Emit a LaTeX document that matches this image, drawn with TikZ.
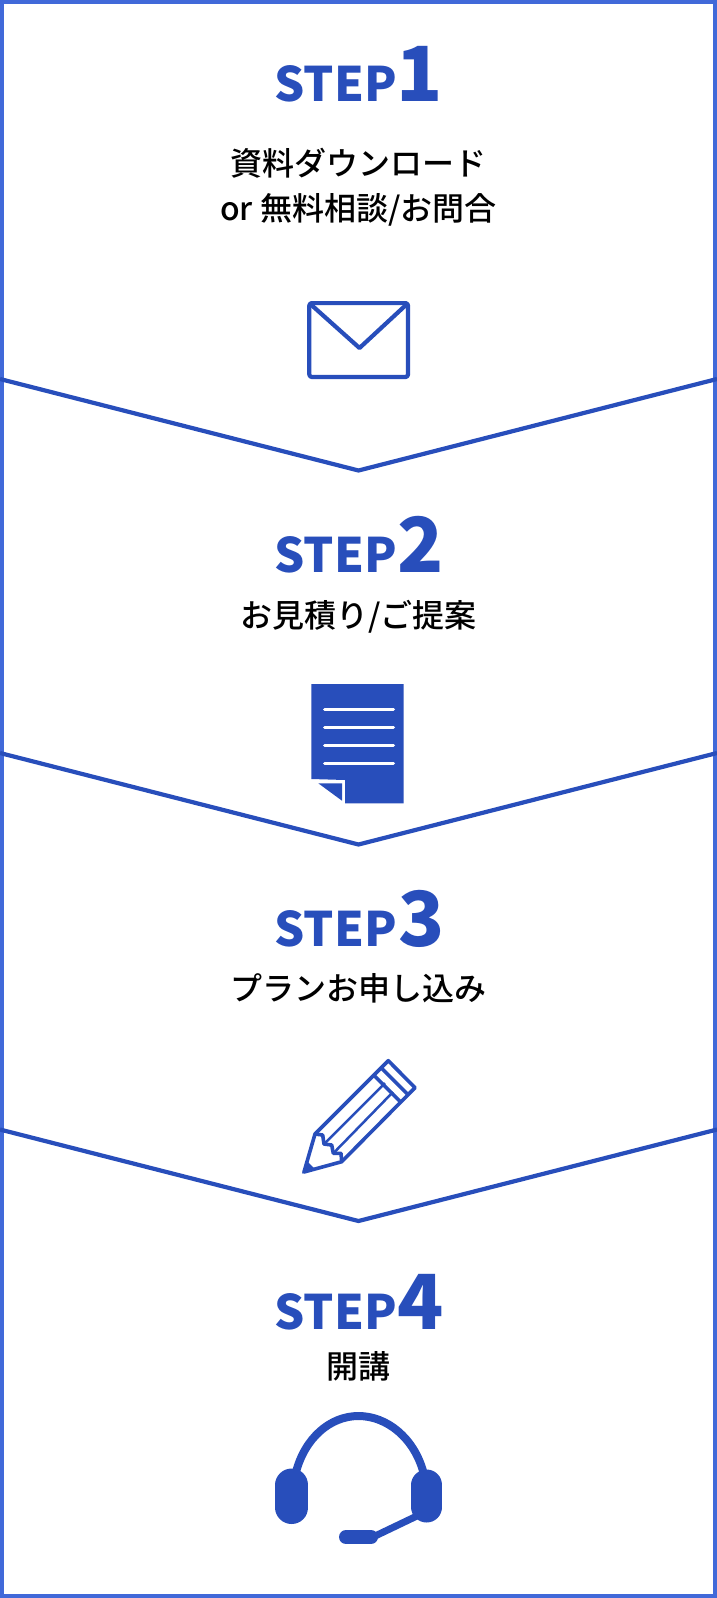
\documentclass[tikz,border=0pt]{standalone}
\usepackage{fontspec}
\setmainfont{Noto Sans CJK JP Medium}
\newfontfamily\stepfont{Noto Sans CJK JP Black}
\definecolor{stepblue}{HTML}{284EBB}
\definecolor{edgeblue}{HTML}{4169D9}
\begin{document}
\begin{tikzpicture}[x=1pt,y=-1pt]

\tikzset{chevron/.style = {draw=stepblue,line width=4.2pt}}
\tikzset{steptext/.style = {text=stepblue,font=\stepfont\fontsize{47.5}{47.5}\selectfont,anchor=base east,inner sep=0pt}}
\tikzset{stepnum/.style = {text=stepblue,font=\stepfont\fontsize{76}{76}\selectfont,anchor=base west,inner sep=0pt}}
\tikzset{caption/.style = {font=\fontsize{32}{44.5}\selectfont,align=center,inner sep=0pt}}
\tikzset{icon/.style = {draw=stepblue,line width=4.2pt,line join=round}}
\tikzset{pencil/.style = {draw=stepblue,line width=3.6pt,line join=round}}

\useasboundingbox (0,0) rectangle (717,1598);
\fill[white] (0,0) rectangle (717,1598);
%frame
\draw[draw=edgeblue,line width=4pt] (2,2) rectangle (715,1596);
%chevrons
\coordinate (l1) at (0,379);
\coordinate (t1) at (358.5,470.5);
\coordinate (r1) at (717,379);
\coordinate (l2) at (0,753);
\coordinate (t2) at (358.5,844.5);
\coordinate (r2) at (717,753);
\coordinate (l3) at (0,1129.5);
\coordinate (t3) at (358.5,1221);
\coordinate (r3) at (717,1129.5);
\draw[chevron] (l1) -- (t1) -- (r1);
\draw[chevron] (l2) -- (t2) -- (r2);
\draw[chevron] (l3) -- (t3) -- (r3);
%headings
\node[steptext] (s1) at (397,101) {STEP};
\node[stepnum] (n1) at (396.5,101) {1};
\node[steptext] (s2) at (397,572) {STEP};
\node[stepnum] (n2) at (397.5,572) {2};
\node[steptext] (s3) at (397,946) {STEP};
\node[stepnum] (n3) at (398.5,946) {3};
\node[steptext] (s4) at (397,1329) {STEP};
\node[stepnum] (n4) at (397,1329) {4};
%captions
\node[caption] (c1) at (358.5,187) {資料ダウンロード\\or 無料相談/お問合};
\node[caption] (c2) at (358.5,617) {お見積り/ご提案};
\node[caption] (c3) at (358.5,988) {プランお申し込み};
\node[caption] (c4) at (358.5,1366) {開講};
%mail
\draw[icon,rounded corners=2.5pt] (309.3,303.1) rectangle (408,377);
\draw[icon] (309.3,303.1) -- (359.5,348) -- (408,303.1);
%document
\fill[stepblue] (311.3,684) -- (403.7,684) -- (403.7,803.3) -- (345,803.3) -- (345,780) -- (311.3,779) -- cycle;
\fill[stepblue] (318.3,783.3) -- (342,783.3) -- (342,800.7) -- cycle;
\draw[white,line width=3pt,line cap=round] (324.5,709.3) -- (393.5,709.3);
\draw[white,line width=3pt,line cap=round] (324.5,727.3) -- (393.5,727.3);
\draw[white,line width=3pt,line cap=round] (324.5,745) -- (393.5,745);
\draw[white,line width=3pt,line cap=round] (324.5,763) -- (393.5,763);
%pencil
\draw[pencil] (304,1172) -- (315,1134) -- (388.3,1060.7) -- (415,1087.7) -- (341.7,1161.7) -- cycle;
\draw[pencil] (381.7,1068.3) -- (408.3,1095);
\draw[pencil] (374.3,1075.7) -- (401,1102.3);
\draw[pencil] (315,1134) -- (322.7,1135) -- (324,1144) -- (331.7,1145) -- (333.3,1153.3) -- (341,1153.3) -- (341.7,1161.7);
\draw[pencil,line width=2.5pt] (324,1144) -- (385,1083);
\draw[pencil,line width=2.5pt] (333.3,1153.3) -- (393,1092);
\fill[stepblue] (302,1173.5) -- (306.5,1160.5) -- (314.5,1168.5) -- cycle;
%headset
\draw[stepblue,line width=8pt] (296,1472) .. controls (305,1438) and (330,1416) .. (358.5,1416) .. controls (387,1416) and (414,1438) .. (423.3,1472);
\draw[stepblue,line width=33pt,line cap=round] (291.8,1485) -- (291.8,1507.5);
\draw[stepblue,line width=31pt,line cap=round] (426.8,1485) -- (426.8,1507);
\draw[stepblue,line width=7pt] (420,1514.5) -- (373,1537);
\draw[stepblue,line width=14pt,line cap=round] (346,1537) -- (371,1537);

\end{tikzpicture}
\end{document}
